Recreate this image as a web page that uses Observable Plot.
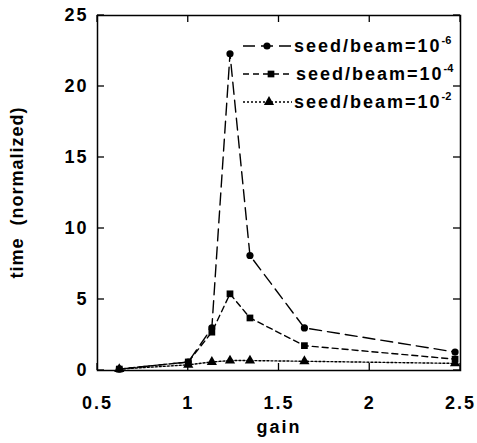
<!DOCTYPE html>
<html>
<head>
<meta charset="utf-8">
<script src="https://cdn.jsdelivr.net/npm/d3@7"></script>
<script src="https://cdn.jsdelivr.net/npm/@observablehq/plot@0.6"></script>
<style>
  body { margin: 0; background: white; }
  #chart svg { font-family: "Liberation Sans", Arial, sans-serif; font-weight: bold; }
</style>
</head>
<body>
<div id="chart"></div>
<script>
const gain = [0.62, 1.0, 1.13, 1.23, 1.34, 1.64, 2.47];
const seed6 = [0.1, 0.6, 3.0, 22.3, 8.1, 3.0, 1.3];
const seed4 = [0.1, 0.6, 2.7, 5.4, 3.7, 1.75, 0.8];
const seed2 = [0.1, 0.4, 0.6, 0.7, 0.7, 0.65, 0.5];
const seriesNames = ["seed/beam=10", "seed/beam=10", "seed/beam=10"];
const seriesExp = ["-6", "-4", "-2"];
const seriesSymbol = ["circle", "square", "triangle"];
const seriesDash = ["12,6", "6,4", "2,2"];
const xTicks = [0.5, 1, 1.5, 2, 2.5];
const yTicks = [0, 5, 10, 15, 20, 25];
const xLabel = "gain";
const yLabel = "time\u00a0\u00a0(normalized)";

const allSeries = [seed6, seed4, seed2];
const rows = [];
allSeries.forEach((vals, s) => vals.forEach((v, i) => rows.push({s, gain: gain[i], time: v})));

const W = 477, H = 443, ML = 97, MR = 17, MT = 15, MB = 73;
const FW = W - ML - MR, FH = H - MT - MB, TL = 7;

const marks = [];
allSeries.forEach((vals, s) => {
  const data = rows.filter(r => r.s === s);
  marks.push(Plot.line(data, {x: "gain", y: "time", stroke: "black", strokeWidth: 1.4, strokeDasharray: seriesDash[s]}));
  marks.push(Plot.dot(data, {x: "gain", y: "time", symbol: () => seriesSymbol[s], fill: "black", r: s === 0 ? 3.6 : 3.8}));
});

const FS = 18;
const chart = Plot.plot({
  width: W, height: H,
  marginLeft: ML, marginRight: MR, marginTop: MT, marginBottom: MB,
  style: {fontSize: "18px", fontWeight: "bold", letterSpacing: "2px", color: "black", background: "white"},
  x: {domain: [0.5, 2.5], ticks: xTicks},
  y: {domain: [0, 25], ticks: yTicks},
  symbol: {type: "identity"},
  marks: [
    ...marks,
    Plot.frame({stroke: "black", strokeWidth: 1.5}),
    Plot.axisX(xTicks, {anchor: "bottom", tickSize: 0, tickPadding: 26, label: null, tickFormat: d => String(d), fill: "black", fontSize: FS}),
    Plot.axisY(yTicks, {anchor: "left", tickSize: 0, tickPadding: 9, label: null, fill: "black", fontSize: FS}),
    Plot.text([xLabel], {frameAnchor: "bottom", dy: 62, text: d => d, fill: "black", fontSize: FS})
  ]
});

const svg = d3.select(chart);
const sx = chart.scale("x"), sy = chart.scale("y");
// inward ticks on all four sides, placed with the chart's own scales
const tg = svg.append("g").attr("stroke", "black").attr("stroke-width", 1.3);
xTicks.forEach(v => {
  const px = sx.apply(v);
  tg.append("line").attr("x1", px).attr("x2", px).attr("y1", MT + FH).attr("y2", MT + FH - TL);
  tg.append("line").attr("x1", px).attr("x2", px).attr("y1", MT).attr("y2", MT + TL);
});
yTicks.forEach(v => {
  const py = sy.apply(v);
  tg.append("line").attr("x1", ML).attr("x2", ML + TL).attr("y1", py).attr("y2", py);
  tg.append("line").attr("x1", ML + FW).attr("x2", ML + FW - TL).attr("y1", py).attr("y2", py);
});

// y-axis title
svg.append("text")
  .attr("transform", `translate(${ML - 79},${MT + FH / 2}) rotate(-90)`)
  .attr("text-anchor", "middle").attr("dominant-baseline", "middle")
  .attr("font-size", FS).attr("font-weight", "bold").attr("letter-spacing", "1px").attr("fill", "black")
  .text(yLabel);

// Legend
const leg = svg.append("g").attr("text-anchor", "start");
const rowY = [46, 74, 102];
const lineX = [243, 292];
const symX = [267, 271, 269];
const textX = [294, 296, 294];
seriesNames.forEach((name, s) => {
  const y = rowY[s];
  leg.append("line").attr("x1", lineX[0]).attr("x2", lineX[1]).attr("y1", y).attr("y2", y)
    .attr("stroke", "black").attr("stroke-width", 1.4).attr("stroke-dasharray", seriesDash[s]);
  const sym = d3.symbol().type([d3.symbolCircle, d3.symbolSquare, d3.symbolTriangle][s]).size(s === 0 ? 40 : 45);
  leg.append("path").attr("d", sym()).attr("transform", `translate(${symX[s]},${y})`).attr("fill", "black");
  const t = leg.append("text").attr("x", textX[s]).attr("y", y + 6).attr("text-anchor", "start")
    .attr("font-size", FS).attr("font-weight", "bold").attr("letter-spacing", "2px").attr("fill", "black");
  t.append("tspan").text(name);
  t.append("tspan").attr("dy", -8).attr("font-size", 11).attr("letter-spacing", "0px").text(seriesExp[s]);
});

document.getElementById("chart").appendChild(chart);
</script>
</body>
</html>
